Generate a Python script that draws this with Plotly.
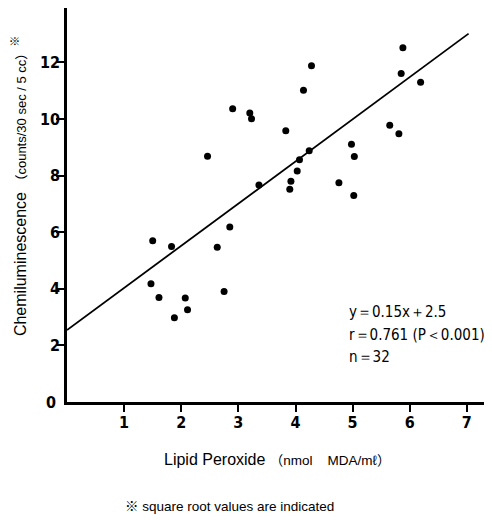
import plotly.graph_objects as go

# Data
lipid_peroxide = [2.90, 3.20, 3.23, 3.83, 2.46, 4.24, 4.07, 4.03, 3.92, 3.90,
                  3.36, 4.76, 2.85, 1.50, 1.83, 2.63, 1.47, 1.61, 2.07, 2.11,
                  1.88, 2.75, 5.88, 4.28, 4.14, 5.85, 6.19, 5.65, 5.81, 4.98,
                  5.03, 5.02]
chemiluminescence = [10.36, 10.21, 10.01, 9.58, 8.68, 8.88, 8.56, 8.16, 7.80, 7.52,
                     7.67, 7.75, 6.18, 5.70, 5.49, 5.47, 4.18, 3.69, 3.67, 3.26,
                     2.98, 3.90, 12.52, 11.88, 11.01, 11.61, 11.30, 9.78, 9.48, 9.11,
                     8.67, 7.30]

fit_slope = 1.49
fit_intercept = 2.54
line_x = [0.0, 7.03]
line_y = [fit_slope * v + fit_intercept for v in line_x]

x_ticks = [1, 2, 3, 4, 5, 6, 7]
y_ticks = [2, 4, 6, 8, 10, 12]

stat_lines = ["y\uff1d0.15x\uff0b2.5", "r\uff1d0.761 (P\uff1c0.001)", "n\uff1d32"]
stat_y = [3.18, 2.37, 1.59]

NUM_FONT = "Liberation Sans Narrow, DejaVu Sans Condensed, Arial Narrow, Liberation Sans, sans-serif"
TXT_FONT = "Liberation Sans, Arial, Noto Sans CJK JP, sans-serif"

fig = go.Figure()
fig.add_trace(go.Scatter(x=line_x, y=line_y, mode="lines",
                         line=dict(color="black", width=1.8), hoverinfo="skip"))
fig.add_trace(go.Scatter(x=lipid_peroxide, y=chemiluminescence, mode="markers",
                         marker=dict(color="black", size=7, line=dict(width=0))))

annotations = []
for txt, yy in zip(stat_lines, stat_y):
    annotations.append(dict(x=4.90, y=yy, xref="x", yref="y", text=txt, showarrow=False,
                            xanchor="left", yanchor="middle",
                            font=dict(family=NUM_FONT, size=15, color="black")))
annotations.append(dict(x=0, y=0, xref="x", yref="y", text="<b>0</b>", showarrow=False,
                        xanchor="right", yanchor="middle", xshift=-9,
                        font=dict(family=NUM_FONT, size=16, color="black")))
annotations.append(dict(x=0.4845, y=0, xref="paper", yref="paper",
                        text="Lipid Peroxide <span style='font-size:13.5px'>\uff08nmol&nbsp;&nbsp;&nbsp;&nbsp;MDA/m\u2113\uff09</span>",
                        showarrow=False, xanchor="center", yanchor="middle", yshift=-57,
                        font=dict(family=TXT_FONT, size=16, color="black")))
annotations.append(dict(x=0.130, y=0, xref="paper", yref="paper",
                        text="\u203b square root values are indicated",
                        showarrow=False, xanchor="left", yanchor="middle", yshift=-104,
                        font=dict(family=TXT_FONT, size=13.5, color="black")))
annotations.append(dict(x=0, y=0.548, xref="paper", yref="paper", textangle=-90,
                        text="Chemiluminescence <span style='font-size:13px'>\uff08counts/30 sec / 5 cc\uff09</span><sup>\u203b</sup>",
                        showarrow=False, xanchor="center", yanchor="middle", xshift=-48,
                        font=dict(family=TXT_FONT, size=16, color="black")))

fig.update_layout(
    width=492, height=520,
    margin=dict(l=59, r=0, t=0, b=126),
    paper_bgcolor="white", plot_bgcolor="white",
    showlegend=False,
    annotations=annotations,
    xaxis=dict(range=[0, 7.58], showgrid=False, zeroline=False,
               showline=True, linecolor="black", linewidth=2.5,
               tickmode="array", tickvals=x_ticks, ticktext=[f"<b>{v}</b>" for v in x_ticks],
               ticks="outside", ticklen=7, tickwidth=2, tickcolor="black",
               ticklabelstandoff=-3,
               tickfont=dict(family=NUM_FONT, size=16, color="black")),
    yaxis=dict(range=[0, 13.92], showgrid=False, zeroline=False,
               showline=True, linecolor="black", linewidth=2.5,
               tickmode="array", tickvals=y_ticks, ticktext=[f"<b>{v}</b>" for v in y_ticks],
               ticks="outside", ticklen=8, tickwidth=2, tickcolor="black",
               ticklabelstandoff=-7,
               tickfont=dict(family=NUM_FONT, size=16, color="black")),
)

fig.write_html("out.html")
